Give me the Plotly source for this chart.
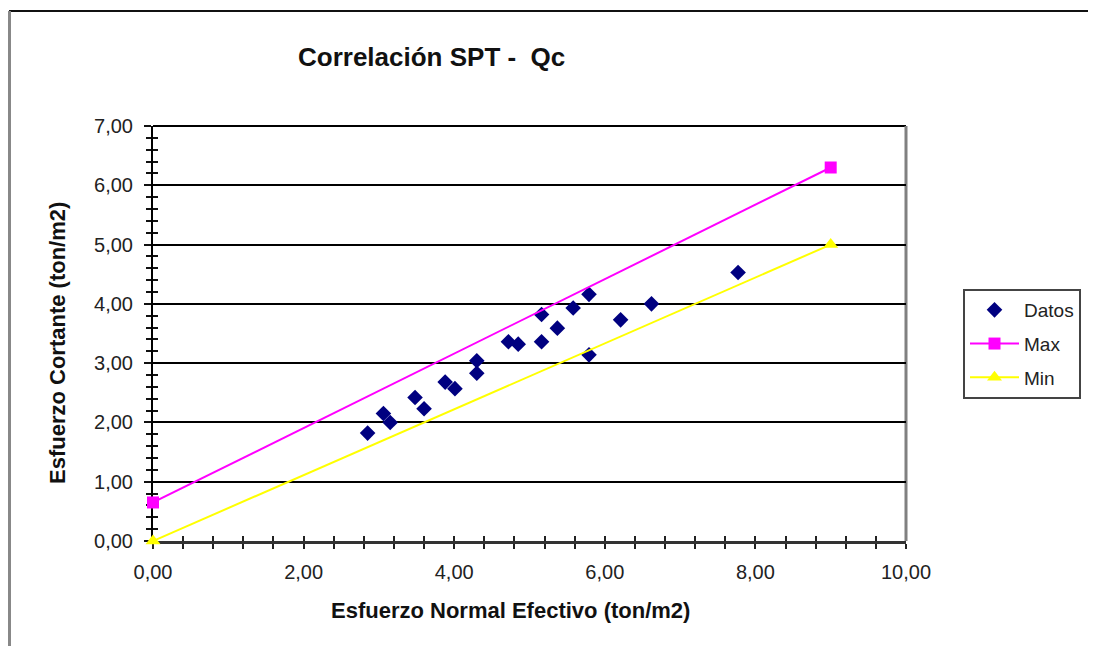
import plotly.graph_objects as go

# ---- data ----
datos_x = [2.85, 3.06, 3.15, 3.48, 3.60, 3.88, 4.01, 4.30, 4.30, 4.72,
           4.85, 5.16, 5.16, 5.37, 5.58, 5.79, 5.79, 6.21, 6.62, 7.77]
datos_y = [1.82, 2.15, 2.00, 2.42, 2.23, 2.68, 2.57, 3.04, 2.83, 3.36,
           3.32, 3.36, 3.82, 3.59, 3.93, 4.16, 3.14, 3.73, 4.00, 4.53]
max_x = [0.0, 9.0]
max_y = [0.65, 6.30]
min_x = [0.0, 9.0]
min_y = [0.0, 5.0]

title_text = "Correlación SPT -  Qc"
x_title = "Esfuerzo Normal Efectivo (ton/m2)"
y_title = "Esfuerzo Cortante (ton/m2)"

FONT = "Liberation Sans, Arial, Helvetica, sans-serif"
# page body has an 8px margin: figure is placed at (8, 8) in the window
OFF = 8
WIN_W, WIN_H = 1096, 646
W, H = WIN_W - OFF, WIN_H - OFF
# plot area in window pixels
PL, PR, PT, PB = 153, 906, 126, 541
PW, PH = PR - PL, PB - PT
L, T = PL - OFF, PT - OFF
R, B = W - L - PW, H - T - PH

def px(xw):
    return (xw - PL) / PW

def py(yw):
    return (PB - yw) / PH

fig = go.Figure()

fig.add_trace(go.Scatter(
    x=datos_x, y=datos_y, mode="markers", name="Datos",
    marker=dict(symbol="diamond", size=12, color="#000080"),
    legendgroup="a", cliponaxis=False))
fig.add_trace(go.Scatter(
    x=max_x, y=max_y, mode="lines+markers", name="Max",
    line=dict(color="#FF00FF", width=2),
    marker=dict(symbol="square", size=12, color="#FF00FF"),
    legendgroup="b", cliponaxis=False))
fig.add_trace(go.Scatter(
    x=min_x, y=min_y, mode="lines+markers", name="Min",
    line=dict(color="#FFFF00", width=2),
    marker=dict(symbol="triangle-up", size=13, color="#FFFF00"),
    legendgroup="c", cliponaxis=False))
# invisible trace for the overlay axes (inner half of cross ticks)
fig.add_trace(go.Scatter(x=[None], y=[None], xaxis="x2", yaxis="y2",
                         showlegend=False, hoverinfo="skip"))

tickfont = dict(family=FONT, size=20, color="#222222")

fig.update_layout(
    width=W, height=H,
    margin=dict(l=L, r=R, t=T, b=B, autoexpand=False),
    paper_bgcolor="white", plot_bgcolor="white",
    separators=",.",
    showlegend=True,
    legend=dict(x=px(963), y=py(289), xanchor="left", yanchor="top",
                bgcolor="white", bordercolor="#444444", borderwidth=2,
                font=dict(family=FONT, size=19, color="#222222"),
                tracegroupgap=6, itemwidth=49),
    xaxis=dict(range=[0, 10], dtick=2, tick0=0, tickformat=".2f",
               showgrid=False, zeroline=False,
               showline=True, linecolor="#333333", linewidth=3,
               ticks="outside", ticklen=5, tickwidth=2, tickcolor="#222222",
               minor=dict(dtick=0.4, ticks="outside", ticklen=5, tickwidth=2,
                          tickcolor="#222222", showgrid=False),
               tickfont=tickfont, ticklabelstandoff=6,
               layer="below traces", fixedrange=True),
    yaxis=dict(range=[0, 7], dtick=1, tick0=0, tickformat=".2f",
               showgrid=True, gridcolor="#000000", gridwidth=1.5,
               zeroline=False,
               showline=True, linecolor="#000000", linewidth=2,
               ticks="outside", ticklen=7, tickwidth=2, tickcolor="#111111",
               minor=dict(dtick=0.2, ticks="outside", ticklen=5, tickwidth=2,
                          tickcolor="#111111", showgrid=False),
               tickfont=tickfont, ticklabelstandoff=7,
               layer="below traces", fixedrange=True),
    xaxis2=dict(range=[0, 10], dtick=2, tick0=0, overlaying="x", anchor="y2",
                side="bottom", showticklabels=False, showgrid=False,
                zeroline=False, showline=False,
                ticks="inside", ticklen=5, tickwidth=2, tickcolor="#222222",
                minor=dict(dtick=0.4, ticks="inside", ticklen=5, tickwidth=2,
                           tickcolor="#222222"),
                layer="below traces", fixedrange=True),
    yaxis2=dict(range=[0, 7], dtick=1, tick0=0, overlaying="y", anchor="x2",
                side="left", showticklabels=False, showgrid=False,
                zeroline=False, showline=False,
                ticks="",
                minor=dict(dtick=0.2, ticks="inside", ticklen=5, tickwidth=2,
                           tickcolor="#111111"),
                layer="below traces", fixedrange=True),
)

# plot-area border: top black, right gray
fig.add_shape(type="line", xref="paper", yref="paper", x0=0, x1=1, y0=1, y1=1,
              line=dict(color="#000000", width=2), layer="below")
fig.add_shape(type="line", xref="paper", yref="paper", x0=1, x1=1, y0=0, y1=1,
              line=dict(color="#808080", width=3), layer="below")

# outer chart frame: top black line, left gray line
fig.add_shape(type="line", xref="paper", yref="paper",
              x0=px(9), x1=px(WIN_W + 5), y0=py(11), y1=py(11),
              line=dict(color="#111111", width=2))
fig.add_shape(type="line", xref="paper", yref="paper",
              x0=px(9.5), x1=px(9.5), y0=py(11), y1=py(WIN_H + 5),
              line=dict(color="#888888", width=3))

# titles
fig.add_annotation(text="<b>" + title_text + "</b>", xref="paper", yref="paper",
                   x=px(431), y=py(57), showarrow=False,
                   xanchor="center", yanchor="middle",
                   font=dict(family=FONT, size=26, color="#111111"))
fig.add_annotation(text="<b>" + x_title + "</b>", xref="paper", yref="paper",
                   x=px(510), y=py(610), showarrow=False,
                   xanchor="center", yanchor="middle",
                   font=dict(family=FONT, size=22, color="#111111"))
fig.add_annotation(text="<b>" + y_title + "</b>", xref="paper", yref="paper",
                   x=px(57), y=py(343), showarrow=False, textangle=-90,
                   xanchor="center", yanchor="middle",
                   font=dict(family=FONT, size=22, color="#111111"))

fig.write_html("out.html")
